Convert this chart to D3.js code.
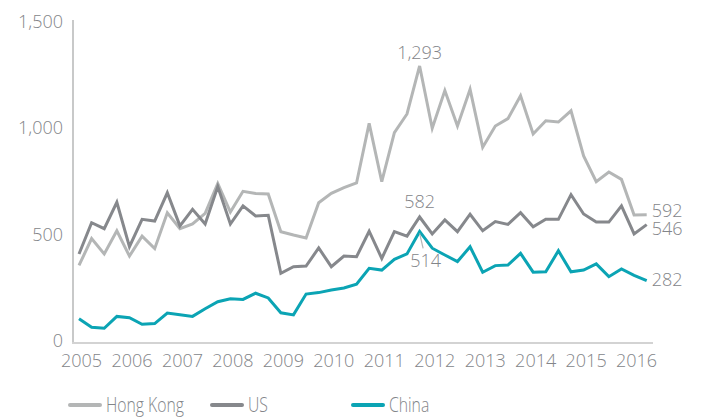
<!DOCTYPE html>
<html>
<head>
<meta charset="utf-8">
<script src="https://cdn.jsdelivr.net/npm/d3@7"></script>
<style>
  body { margin: 0; background: #fff; }
  svg { font-family: "Open Sans", sans-serif; font-weight: 300; }
</style>
</head>
<body>
<svg width="702" height="418"></svg>
<script>
// quarterly values, 2005 Q1 .. 2016 Q2
var hongKong = [354, 480, 408, 517, 398, 492, 433, 602, 527, 549, 599, 740,
    605, 703, 693, 690, 513, 497, 483, 649, 693, 720, 742, 1023,
    748, 979, 1067, 1293, 1000, 1177, 1010, 1183, 910, 1010, 1045, 1153,
    973, 1035, 1029, 1082, 869, 748, 794, 759, 591, 592];
var us = [408, 555, 527, 651, 442, 571, 563, 696, 540, 618, 549, 725,
    549, 634, 587, 590, 317, 348, 351, 436, 348, 398, 395, 515,
    387, 513, 492, 582, 502, 568, 513, 595, 517, 560, 547, 602,
    536, 571, 571, 687, 596, 558, 558, 634, 502, 546];
var china = [103, 63, 58, 114, 108, 77, 80, 130, 122, 114, 150, 183,
    197, 194, 223, 201, 131, 121, 219, 226, 238, 248, 266, 340,
    332, 383, 408, 514, 435, 403, 372, 442, 322, 353, 356, 411,
    322, 324, 423, 324, 332, 361, 301, 337, 307, 282];
var years = [2005, 2006, 2007, 2008, 2009, 2010, 2011, 2012, 2013, 2014, 2015, 2016];
var yTicks = [0, 500, 1000, 1500];

var series = [
    { name: "Hong Kong", values: hongKong, color: "#b4b6b6" },
    { name: "US", values: us, color: "#86888c" },
    { name: "China", values: china, color: "#0ba4b4" }
];

var svg = d3.select("svg");
var textColor = "#838589";

var x = d3.scaleLinear().domain([0, hongKong.length - 1]).range([79, 646.7]);
var y = d3.scaleLinear().domain([0, 1500]).range([340.6, 22]);

// axes (labels only, lines drawn below)
var yAxis = svg.append("g")
    .attr("transform", "translate(73,0)")
    .call(d3.axisLeft(y).tickValues(yTicks).tickFormat(d3.format(",")).tickSize(0).tickPadding(10));

var xAxis = svg.append("g")
    .attr("transform", "translate(2,343)")
    .call(d3.axisBottom(x)
        .tickValues(years.map(function (yr) { return (yr - 2005) * 4; }))
        .tickFormat(function (d) { return years[d / 4]; })
        .tickSize(0).tickPadding(11));

[xAxis, yAxis].forEach(function (g) {
    g.select(".domain").remove();
    g.selectAll("text")
        .attr("fill", textColor)
        .style("font-size", "18px")
        .style("font-family", "'Open Sans', sans-serif")
        .style("font-weight", 300);
});

svg.append("line")
    .attr("x1", 73).attr("x2", 73).attr("y1", 20).attr("y2", 344)
    .attr("stroke", "#c8c9c9").attr("stroke-width", 2);
svg.append("line")
    .attr("x1", 72).attr("x2", 653).attr("y1", 343).attr("y2", 343)
    .attr("stroke", "#d3d3d3").attr("stroke-width", 2);

var line = d3.line()
    .x(function (d, i) { return x(i); })
    .y(function (d) { return y(d); });

svg.selectAll("path.series").data(series).enter().append("path")
    .attr("class", "series")
    .attr("d", function (s) { return line(s.values); })
    .attr("fill", "none")
    .attr("stroke", function (s) { return s.color; })
    .attr("stroke-width", 3)
    .attr("stroke-linejoin", "miter");

// annotations
var peak = 27;
var last = hongKong.length - 1;

svg.append("line")
    .attr("x1", x(peak)).attr("y1", y(china[peak]) + 2)
    .attr("x2", x(peak) + 3.5).attr("y2", y(china[peak]) + 17)
    .attr("stroke", "#b4b6b6").attr("stroke-width", 1.2);

var labels = [
    { text: d3.format(",")(hongKong[peak]), x: x(peak), y: y(hongKong[peak]) - 13, anchor: "middle" },
    { text: us[peak], x: x(peak), y: y(us[peak]) - 15, anchor: "middle" },
    { text: china[peak], x: x(peak) + 6, y: y(china[peak]) + 29, anchor: "middle" },
    { text: hongKong[last], x: x(last) + 5, y: y(hongKong[last]) - 4, anchor: "start" },
    { text: us[last], x: x(last) + 5, y: y(us[last]) + 4, anchor: "start" },
    { text: china[last], x: x(last) + 5, y: y(china[last]) - 1, anchor: "start" }
];

svg.selectAll("text.ann").data(labels).enter().append("text")
    .attr("class", "ann")
    .attr("x", function (d) { return d.x; })
    .attr("y", function (d) { return d.y; })
    .attr("dy", "0.35em")
    .attr("text-anchor", function (d) { return d.anchor; })
    .attr("fill", textColor)
    .style("font-size", "18px")
    .text(function (d) { return d.text; });

// legend (condensed look)
var legendX = [70, 212, 353];
var legend = svg.selectAll("g.legend").data(series).enter().append("g")
    .attr("class", "legend")
    .attr("transform", function (d, i) { return "translate(" + legendX[i] + ",405)"; });

legend.append("line")
    .attr("x1", 0).attr("x2", 30)
    .attr("stroke", function (d) { return d.color; })
    .attr("stroke-width", 4)
    .attr("stroke-linecap", "round");

legend.append("text")
    .attr("transform", "translate(36,0) scale(0.75,1)")
    .attr("dy", "0.35em")
    .attr("fill", textColor)
    .style("font-size", "21px")
    .text(function (d) { return d.name; });
</script>
</body>
</html>
